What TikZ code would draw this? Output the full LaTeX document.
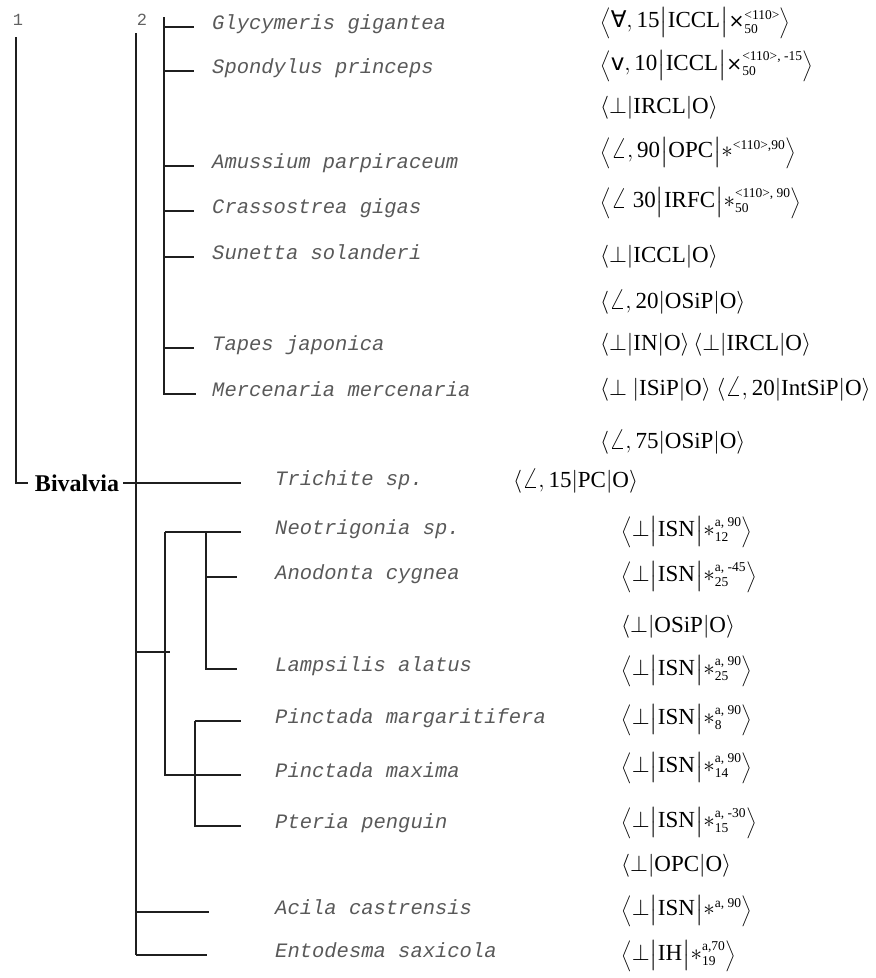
\RequirePackage{fix-cm}
\documentclass[tikz,border=0pt]{standalone}
\usepackage{amsmath}
\usepackage{fontspec}
\setmainfont{Liberation Serif}
\setmonofont{Liberation Mono}
\newfontfamily\symf{DejaVu Sans}
\newcommand{\ssc}[1]{\mbox{\fontsize{13.5}{14}\selectfont #1}}
\newcommand{\Sps}[2]{^{\ssc{#1}}_{\ssc{#2}}}
\newcommand{\Spo}[1]{^{\ssc{#1}}}
\newcommand{\tx}[1]{\mbox{#1}}
\newcommand{\pp}{\mathord{\perp}}
\newcommand{\ang}{\mathord{\scalebox{1.3}{$\angle$}}}
\newcommand{\Lbr}{\mathopen{\mbox{\fontsize{19}{23}\selectfont$\Big\langle$}}}
\newcommand{\Rbr}{\mathclose{\mbox{\fontsize{19}{23}\selectfont$\Big\rangle$}}}
% big formula: three fields with scripts
\newcommand{\BF}[3]{\Lbr#1\big|#2\big|#3\Rbr}
% plain formula
\newcommand{\PF}[3]{\langle#1|#2|#3\rangle}
\newcommand{\xs}{\mbox{\symf\fontsize{19}{20}\selectfont ×}}
\begin{document}
\begin{tikzpicture}[x=1pt,y=-1pt,
  br/.style={line width=1.1pt, draw=black!88},
  sp/.style={anchor=mid west, inner sep=0pt, text=black!65, font=\ttfamily\itshape\fontsize{20.5}{24}\selectfont},
  fm/.style={anchor=west, inner sep=0pt, font=\fontsize{23}{28}\selectfont},
  num/.style={inner sep=0pt, text=black!62, font=\ttfamily\fontsize{17}{20}\selectfont}]
\useasboundingbox (0,0) rectangle (876,978);
% numbers
\node[num] (n1) at (18,20) {1};
\node[num] (n2) at (142,20) {2};
% Bivalvia
\node[inner sep=0pt, font=\bfseries\fontsize{24}{28}\selectfont] (biv) at (77,483) {Bivalvia};
% species
\node[sp] (s1) at (212,27) {Glycymeris gigantea};
\node[sp] (s2) at (212,71) {Spondylus princeps};
\node[sp] (s4) at (212,166) {Amussium parpiraceum};
\node[sp] (s5) at (212,211) {Crassostrea gigas};
\node[sp] (s6) at (212,257) {Sunetta solanderi};
\node[sp] (s8) at (212,348) {Tapes japonica};
\node[sp] (s9) at (212,394) {Mercenaria mercenaria};
\node[sp] (s11) at (275,483) {Trichite sp.};
\node[sp] (s12) at (275,532) {Neotrigonia sp.};
\node[sp] (s13) at (275,577) {Anodonta cygnea};
\node[sp] (s15) at (275,669) {Lampsilis alatus};
\node[sp] (s16) at (275,721) {Pinctada margaritifera};
\node[sp] (s17) at (275,775) {Pinctada maxima};
\node[sp] (s18) at (275,826) {Pteria penguin};
\node[sp] (s20) at (275,912) {Acila castrensis};
\node[sp] (s21) at (275,955) {Entodesma saxicola};
% formulas
\node[fm] (f1) at (600,23) {$\BF{\tx{\symf ∀}, \tx{15}}{\tx{ICCL}}{\xs\Sps{<110>}{50}}$};
\node[fm] (f2) at (600,66) {$\BF{\tx{\symf v}, \tx{10}}{\tx{ICCL}}{\xs\Sps{<110>, -15}{50}}$};
\node[fm] (f3) at (600,108) {$\PF{\pp}{\tx{IRCL}}{\tx{O}}$};
\node[fm] (f4) at (600,153) {$\BF{\ang,\tx{90}}{\tx{OPC}}{\ast\Spo{<110>,90}}$};
\node[fm] (f5) at (600,203) {$\BF{\ang\ \tx{30}}{\tx{IRFC}}{\ast\Sps{<110>, 90}{50}}$};
\node[fm] (f6) at (600,257) {$\PF{\pp}{\tx{ICCL}}{\tx{O}}$};
\node[fm] (f7) at (600,302) {$\PF{\ang, \tx{20}}{\tx{OSiP}}{\tx{O}}$};
\node[fm] (f8) at (600,345) {$\PF{\pp}{\tx{IN}}{\tx{O}}\,\PF{\pp}{\tx{IRCL}}{\tx{O}}$};
\node[fm] (f9) at (600,389) {$\PF{\pp\ }{\tx{ISiP}}{\tx{O}}\ \PF{\ang, \tx{20}}{\tx{IntSiP}}{\tx{O}}$};
\node[fm] (f10) at (600,442) {$\PF{\ang, \tx{75}}{\tx{OSiP}}{\tx{O}}$};
\node[fm] (f11) at (513,481) {$\PF{\ang,\tx{15}}{\tx{PC}}{\tx{O}}$};
\node[fm] (f12) at (621,532) {$\BF{\pp}{\tx{ISN}}{\ast\Sps{a, 90}{12}}$};
\node[fm] (f13) at (621,577) {$\BF{\pp}{\tx{ISN}}{\ast\Sps{a, -45}{25}}$};
\node[fm] (f14) at (621,627) {$\PF{\pp}{\tx{OSiP}}{\tx{O}}$};
\node[fm] (f15) at (621,671) {$\BF{\pp}{\tx{ISN}}{\ast\Sps{a, 90}{25}}$};
\node[fm] (f16) at (621,720) {$\BF{\pp}{\tx{ISN}}{\ast\Sps{a, 90}{8}}$};
\node[fm] (f17) at (621,768) {$\BF{\pp}{\tx{ISN}}{\ast\Sps{a, 90}{14}}$};
\node[fm] (f18) at (621,823) {$\BF{\pp}{\tx{ISN}}{\ast\Sps{a, -30}{15}}$};
\node[fm] (f19) at (621,866) {$\PF{\pp}{\tx{OPC}}{\tx{O}}$};
\node[fm] (f20) at (621,911) {$\BF{\pp}{\tx{ISN}}{\ast\Spo{a, 90}}$};
\node[fm] (f21) at (621,956) {$\BF{\pp}{\tx{IH}}{\ast\Sps{a,70}{19}}$};
% tree coordinates
\coordinate (t1) at (16,37);
\coordinate (v2top) at (136,33);
\coordinate (v2bot) at (136,955);
\coordinate (tg) at (164,17);
\coordinate (lg) at (165,532);
\coordinate (sg) at (206,532);
\coordinate (pg) at (195,721);
\coordinate (j1) at (136,652);
\coordinate (j1e) at (170,652);
% level 1
\draw[br, shorten >=7pt] (t1) |- (biv.west);
\draw[br, shorten <=4pt, shorten >=34pt] (biv.east) -- (s11.mid west);
% level 2 main line
\draw[br] (v2top) -- (v2bot);
\draw[br, shorten >=68pt] (v2bot) -- (s21.mid west);
\draw[br, shorten >=66pt] (s20.mid west -| v2bot) -- (s20.mid west);
\draw[br] (j1) -- (j1e);
% top group
\draw[br, shorten >=16pt] (tg) |- (s9.mid west);
\foreach \s in {s1,s2,s4,s5,s6,s8}
  \draw[br, shorten >=18pt] (\s.mid west -| tg) -- (\s.mid west);
% lower group
\draw[br, shorten >=34pt] (lg) -- (s12.mid west);
\draw[br, shorten >=34pt] (lg) |- (s17.mid west);
\draw[br, shorten >=38pt] (sg) |- (s15.mid west);
\draw[br, shorten >=38pt] (s13.mid west -| sg) -- (s13.mid west);
\draw[br, shorten >=34pt] (pg) -- (s16.mid west);
\draw[br, shorten >=34pt] (pg) |- (s18.mid west);
\end{tikzpicture}
\end{document}
